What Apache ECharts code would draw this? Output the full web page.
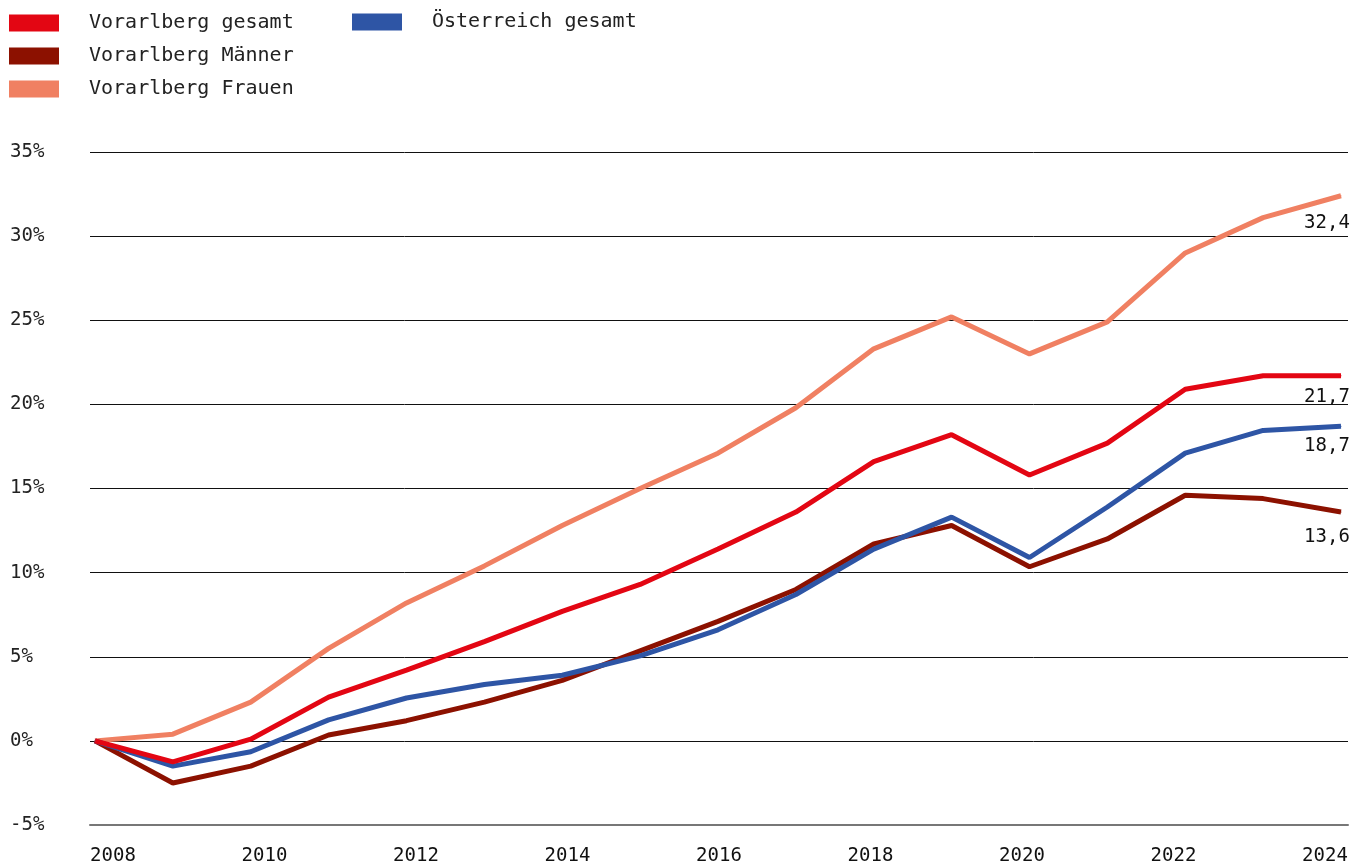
<!DOCTYPE html>
<html>
<head>
<meta charset="utf-8">
<script src="https://cdn.jsdelivr.net/npm/echarts@6/dist/echarts.min.js"></script>
<style>
  html, body { margin: 0; padding: 0; background: #fff; }
  #chart { width: 1352px; height: 866px; }
</style>
</head>
<body>
<div id="chart"></div>
<script>
// Jahre und Veränderung in % gegenüber 2008
var years = [2008, 2009, 2010, 2011, 2012, 2013, 2014, 2015, 2016, 2017, 2018, 2019, 2020, 2021, 2022, 2023, 2024];
var vbgGesamt = [0, -1.25, 0.1, 2.6, 4.2, 5.9, 7.7, 9.3, 11.4, 13.6, 16.6, 18.2, 15.8, 17.7, 20.9, 21.7, 21.7];
var vbgMaenner = [0, -2.5, -1.5, 0.35, 1.2, 2.3, 3.6, 5.35, 7.1, 9.0, 11.7, 12.8, 10.35, 12.0, 14.6, 14.4, 13.6];
var vbgFrauen = [0, 0.4, 2.3, 5.5, 8.2, 10.4, 12.8, 15.0, 17.1, 19.8, 23.3, 25.2, 23.0, 24.9, 29.0, 31.1, 32.4];
var oeGesamt = [0, -1.5, -0.65, 1.25, 2.55, 3.35, 3.9, 5.05, 6.6, 8.7, 11.4, 13.3, 10.9, 13.9, 17.1, 18.45, 18.7];
var yTicks = [-5, 0, 5, 10, 15, 20, 25, 30, 35];
var xTicks = [2008, 2010, 2012, 2014, 2016, 2018, 2020, 2022, 2024];

var font = "DejaVu Sans Mono";
var myChart = echarts.init(document.getElementById("chart"));

function makeData(vals, dy) {
  return vals.map(function (v, i) {
    var item = { value: [years[i], v] };
    if (i == vals.length - 1) {
      item.label = {
        show: true,
        position: "bottom",
        offset: [-14, dy],
        formatter: function (p) { return p.value[1].toFixed(1).replace(".", ","); }
      };
    }
    return item;
  });
}

function makeSeries(name, vals, color, dy) {
  return {
    name: name,
    type: "line",
    data: makeData(vals, dy),
    symbol: "circle",
    symbolSize: 1,
    showSymbol: true,
    lineStyle: { color: color, width: 5 },
    itemStyle: { color: color },
    label: { color: "#111", fontFamily: font, fontSize: 19 },
    emphasis: { disabled: true },
    animation: false
  };
}

var legendText = { fontFamily: font, fontSize: 20, color: "#222", lineHeight: 17, padding: [0, 0, 0, 25] };

var option = {
  backgroundColor: "#fff",
  animation: false,
  legend: [
    {
      data: ["Vorarlberg gesamt", "Vorarlberg Männer", "Vorarlberg Frauen"],
      orient: "vertical",
      left: 9,
      top: 13,
      icon: "rect",
      itemWidth: 50,
      itemHeight: 17,
      itemGap: 13,
      padding: 0,
      selectedMode: false,
      textStyle: legendText
    },
    {
      data: ["Österreich gesamt"],
      orient: "vertical",
      left: 352,
      top: 12,
      icon: "rect",
      itemWidth: 50,
      itemHeight: 17,
      padding: 0,
      selectedMode: false,
      textStyle: legendText
    }
  ],
  grid: [
    { left: 90, right: 4, top: 152, bottom: 41 },
    { left: 113, right: 27, top: 152, bottom: 41 }
  ],
  xAxis: [
    {
      type: "value",
      gridIndex: 0,
      min: 2007.936,
      max: 2024.09,
      axisLine: { show: true, onZero: false, lineStyle: { color: "#777", width: 2 } },
      axisTick: { show: false },
      axisLabel: { show: false },
      splitLine: { show: false }
    },
    {
      type: "value",
      gridIndex: 1,
      min: xTicks[0],
      max: xTicks[xTicks.length - 1],
      interval: 2,
      axisLine: { show: false },
      axisTick: { show: false },
      splitLine: { show: false },
      axisLabel: { fontFamily: font, fontSize: 19, color: "#111", margin: 22, formatter: function (v) { return String(v); } }
    }
  ],
  yAxis: [
    {
      type: "value",
      gridIndex: 0,
      min: yTicks[0],
      max: yTicks[yTicks.length - 1],
      interval: 5,
      axisLine: { show: false },
      axisTick: { show: false },
      splitLine: { show: true, lineStyle: { color: "#111", width: 1 } },
      axisLabel: { fontFamily: font, fontSize: 19, color: "#222", align: "left", margin: 80, formatter: "{value}%" }
    },
    {
      type: "value",
      gridIndex: 1,
      min: yTicks[0],
      max: yTicks[yTicks.length - 1],
      show: false
    }
  ],
  series: [
    makeSeries("Vorarlberg Frauen", vbgFrauen, "#F08062", 12),
    makeSeries("Vorarlberg Männer", vbgMaenner, "#8C1100", 10),
    makeSeries("Österreich gesamt", oeGesamt, "#2E55A5", 5),
    makeSeries("Vorarlberg gesamt", vbgGesamt, "#E30613", 6)
  ]
};
myChart.setOption(option);
window.addEventListener("resize", function () { myChart.resize(); });
</script>
</body>
</html>
